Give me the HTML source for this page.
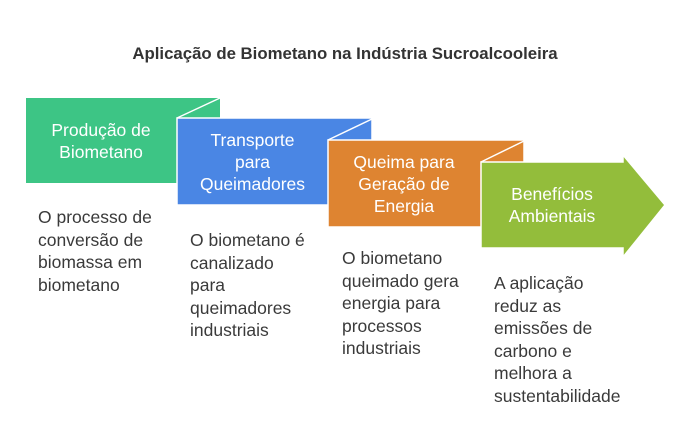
<!DOCTYPE html>
<html><head><meta charset="utf-8"><style>
body{margin:0;background:#fff;}
.w{position:relative;width:690px;height:436px;overflow:hidden;font-family:"Liberation Sans",Arial,sans-serif;}
.t{position:absolute;color:#fff;font-size:17.5px;line-height:22px;text-align:center;}
.d{position:absolute;color:#3a3a3a;font-size:17.5px;line-height:22.5px;}
</style></head><body><div class="w">
<svg width="690" height="436" style="position:absolute;left:0;top:0">
<rect x="26" y="98" width="194" height="85" fill="#3dc585"/>
<rect x="177" y="118" width="195" height="87" fill="#4a86e4" stroke="#fff" stroke-width="1.5"/>
<line x1="177" y1="118" x2="220" y2="98" stroke="#fff" stroke-width="1.5"/>
<rect x="328" y="140" width="196" height="87" fill="#de8431" stroke="#fff" stroke-width="1.5"/>
<line x1="328" y1="140" x2="372" y2="119" stroke="#fff" stroke-width="1.5"/>
<polygon points="481,162 623,162 623,155 665,205 623,257 623,248 481,248" fill="#93bd3b" stroke="#fff" stroke-width="1.5"/>
<line x1="481" y1="162" x2="524" y2="141" stroke="#fff" stroke-width="1.5"/>
</svg>
<div style="position:absolute;left:0;width:690px;top:44px;text-align:center;font-weight:bold;font-size:16.8px;color:#333">Aplicação de Biometano na Indústria Sucroalcooleira</div>
<div class="t" style="left:26px;width:150px;top:119px">Produção de<br>Biometano</div>
<div class="t" style="left:177px;width:151px;top:129px">Transporte<br>para<br>Queimadores</div>
<div class="t" style="left:328px;width:152px;top:151px">Queima para<br>Geração de<br>Energia</div>
<div class="t" style="left:481px;width:142px;top:183px">Benefícios<br>Ambientais</div>
<div class="d" style="left:38px;top:206px">O processo de<br>conversão de<br>biomassa em<br>biometano</div>
<div class="d" style="left:190px;top:229px">O biometano é<br>canalizado<br>para<br>queimadores<br>industriais</div>
<div class="d" style="left:342px;top:247px">O biometano<br>queimado gera<br>energia para<br>processos<br>industriais</div>
<div class="d" style="left:494px;top:272px">A aplicação<br>reduz as<br>emissões de<br>carbono e<br>melhora a<br>sustentabilidade</div>
</div></body></html>
